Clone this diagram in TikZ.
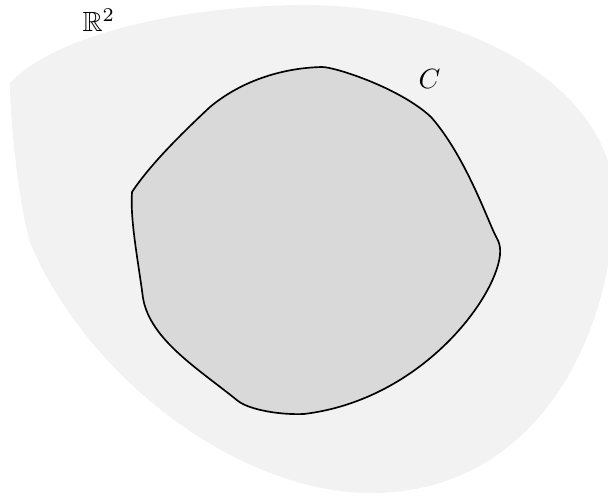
\documentclass[tikz,border=0pt]{standalone}
\usepackage{amsmath,amssymb}
\usepackage{tikz}
\usetikzlibrary{positioning}

\begin{document}
\begin{tikzpicture}[x=0.36pt, y=-0.36pt, plane/.style={fill=gray!10}, region/.style={fill=gray!30, draw=black, semithick}, lbl/.style={anchor=base west, inner sep=0pt}]
            \useasboundingbox (0,0) rectangle (608,496);
            \clip (0,0) rectangle (608,496);
            % the plane
            \path[plane] (10,83) .. controls (60,30) and (200,5) .. (304,5)
                .. controls (470,5) and (614,90) .. (614,200)
                .. controls (614,330) and (540,493) .. (371,493)
                .. controls (240,493) and (90,380) .. (32,247)
                .. controls (22,224) and (10,130) .. (10,83) -- cycle;
            % the curve C
            \draw[region] (132,192) .. controls (150,165) and (180,135) .. (210,107)
                .. controls (240,82) and (280,68) .. (322,67)
                .. controls (335,67) and (400,88) .. (431,117)
                .. controls (460,150) and (480,200) .. (492,228)
                .. controls (497,240) and (501,242) .. (500,255)
                .. controls (495,300) and (420,400) .. (304,414)
                .. controls (280,415) and (250,410) .. (238,401)
                .. controls (200,370) and (150,340) .. (143,298)
                .. controls (138,260) and (130,220) .. (132,192) -- cycle;
            \node[lbl] (rtwo) at (82,32) {$\mathbb{R}^2$};
            \node[lbl] (cname) at (418,89) {$C$};
        \end{tikzpicture}
\end{document}
